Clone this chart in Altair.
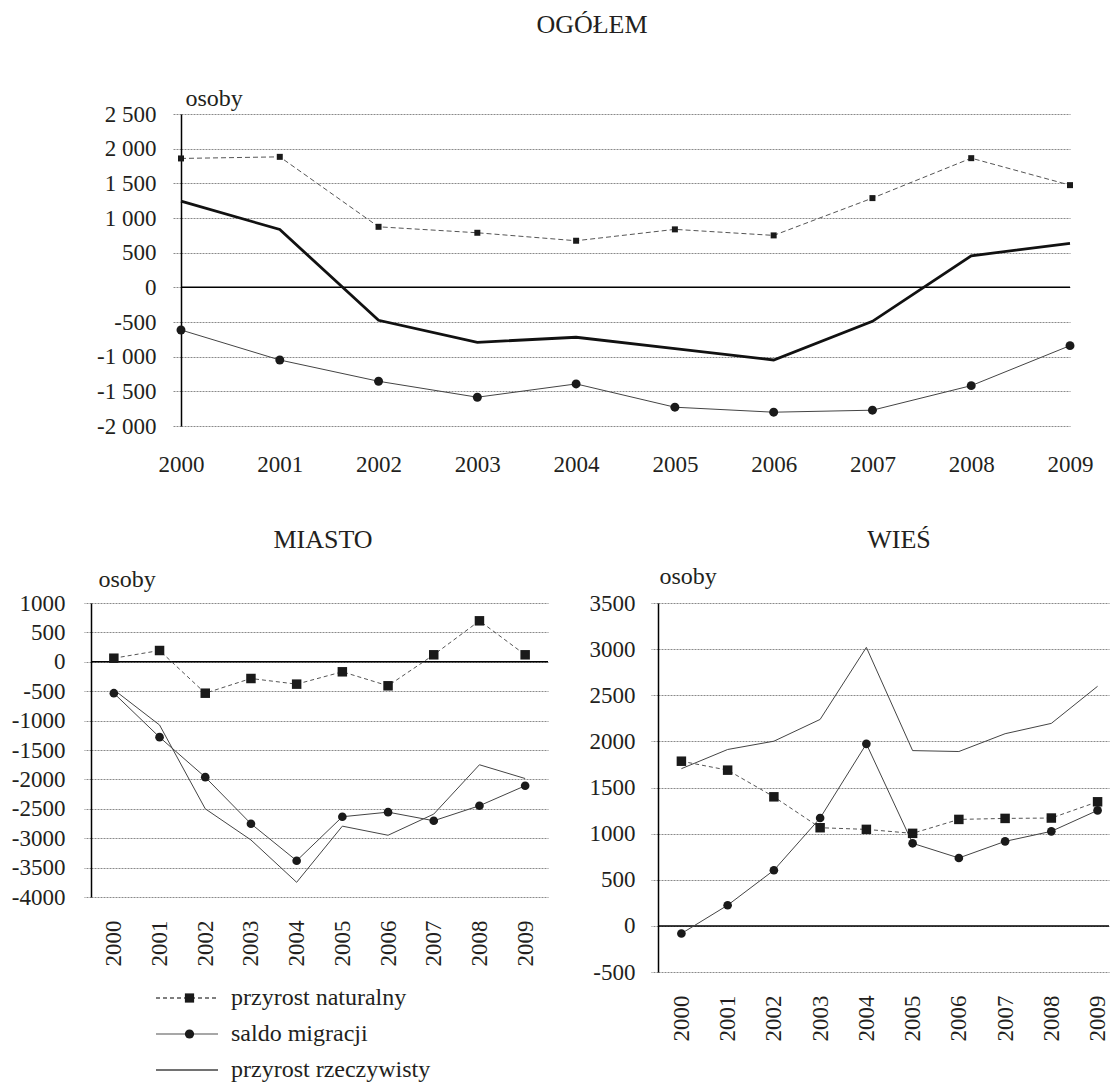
import altair as alt
import pandas as pd

# ---------------- data ----------------
years = [2000, 2001, 2002, 2003, 2004, 2005, 2006, 2007, 2008, 2009]
series = ["przyrost naturalny", "saldo migracji", "przyrost rzeczywisty"]

ogolem_naturalny = [1859, 1882, 873, 787, 672, 836, 749, 1287, 1863, 1474]
ogolem_migracje = [-615, -1048, -1355, -1585, -1393, -1729, -1801, -1772, -1418, -841]
ogolem_rzeczywisty = [1244, 834, -476, -793, -720, -885, -1048, -490, 455, 634]

miasto_naturalny = [61, 192, -534, -284, -380, -170, -408, 119, 697, 119]
miasto_migracje = [-534, -1282, -1962, -2754, -3383, -2635, -2557, -2703, -2448, -2108]
miasto_rzeczywisty = [-475, -1075, -2500, -3030, -3750, -2795, -2950, -2590, -1751, -1985]

wies_naturalny = [1785, 1688, 1399, 1064, 1046, 1003, 1154, 1165, 1169, 1345]
wies_migracje = [-83, 224, 603, 1169, 1973, 895, 736, 916, 1025, 1252]
wies_rzeczywisty = [1704, 1912, 2002, 2238, 3019, 1900, 1890, 2083, 2195, 2597]

ogolem_ticks = [-2000, -1500, -1000, -500, 0, 500, 1000, 1500, 2000, 2500]
miasto_ticks = [-4000, -3500, -3000, -2500, -2000, -1500, -1000, -500, 0, 500, 1000]
wies_ticks = [-500, 0, 500, 1000, 1500, 2000, 2500, 3000, 3500]

# ---------------- style ----------------
FONT = "Liberation Serif"
INK = "#231f20"
GRID = "#8a8a8a"
TICK_FS = 23


def long_frame(nat, mig, rz):
    return pd.DataFrame({
        "rok": years * 3,
        "seria": [s for s in series for _ in years],
        "wartosc": nat + mig + rz,
    })


def panel(title, df, ticks, width, height, xdom, label_expr, x_angle, x_pad,
          tick_size, y_pad, osoby_x, osoby_y, sq_size, circ_size, rz_width,
          rz_color, dash, title_cx, title_y):
    x = alt.X(
        "rok:Q",
        scale=alt.Scale(domain=xdom, nice=False, zero=False),
        axis=alt.Axis(values=years, format="d", grid=False, domain=False,
                      ticks=False, labelAngle=x_angle, labelPadding=x_pad,
                      labelFont=FONT, labelFontSize=TICK_FS, labelColor=INK,
                      labelFlush=False, labelOverlap=False, title=None),
    )
    y = alt.Y(
        "wartosc:Q",
        scale=alt.Scale(domain=[ticks[0], ticks[-1]], nice=False, zero=False),
        axis=alt.Axis(values=ticks, labelExpr=label_expr, grid=True,
                      gridColor=GRID, gridDash=[2, 1], gridWidth=1,
                      tickSize=tick_size, tickColor=GRID, tickDash=[2, 1],
                      tickWidth=1, domainColor="black", domainWidth=1.5,
                      labelPadding=y_pad, labelFont=FONT,
                      labelFontSize=TICK_FS, labelColor=INK,
                      labelOverlap=False, labelFlush=False,
                      title="osoby", titleAngle=0, titleAlign="left",
                      titleBaseline="alphabetic", titleX=osoby_x,
                      titleY=osoby_y, titleFont=FONT, titleFontSize=24,
                      titleFontWeight="normal", titleColor=INK),
    )
    base = alt.Chart(df)

    def sel(i):
        return base.transform_filter(alt.datum.seria == series[i])

    zero = alt.Chart(pd.DataFrame({"wartosc": [0]})).mark_rule(
        color="black", strokeWidth=1.5).encode(y=y)
    nat_line = sel(0).mark_line(color="#555555", strokeWidth=1,
                                strokeDash=dash).encode(x=x, y=y)
    mig_line = sel(1).mark_line(color="#444444", strokeWidth=1).encode(x=x, y=y)
    rz_line = sel(2).mark_line(color=rz_color, strokeWidth=rz_width).encode(x=x, y=y)
    nat_pts = sel(0).mark_point(shape="square", filled=True, opacity=1,
                                size=sq_size, color="#1a1a1a").encode(x=x, y=y)
    mig_pts = sel(1).mark_point(shape="circle", filled=True, opacity=1,
                                size=circ_size, color="#1a1a1a").encode(x=x, y=y)
    head = alt.Chart(pd.DataFrame({"t": [title]})).mark_text(
        align="center", baseline="alphabetic", font=FONT, fontSize=26,
        color=INK).encode(x=alt.value(title_cx), y=alt.value(title_y), text="t:N")
    return alt.layer(zero, nat_line, mig_line, rz_line, nat_pts, mig_pts, head).properties(
        width=width, height=height)


top_expr = ("datum.value < 0 ? '-' + replace(format(-datum.value, ','), ',', ' ')"
            " : replace(format(datum.value, ','), ',', ' ')")
plain_expr = "datum.value < 0 ? '-' + format(-datum.value, 'd') : format(datum.value, 'd')"

ogolem = panel("OGÓŁEM", long_frame(ogolem_naturalny, ogolem_migracje, ogolem_rzeczywisty),
               ogolem_ticks, 889, 312, [2000, 2009], top_expr, 0, 27.5,
               8, 17, 4, -9, 36, 80, 2.8, "#111111", [5, 3], 411, -81)

miasto = panel("MIASTO", long_frame(miasto_naturalny, miasto_migracje, miasto_rzeczywisty),
               miasto_ticks, 457, 294, [1999.5, 2009.5], plain_expr, -90, 23,
               7, 19, 7, -17, 90, 75, 1, "#444444", [4, 3], 232, -55)

wies = panel("WIEŚ", long_frame(wies_naturalny, wies_migracje, wies_rzeczywisty),
             wies_ticks, 451, 369, [1999.494, 2009.247], plain_expr, -90, 23,
             7, 16, 1, -20, 90, 75, 1, "#444444", [4, 3], 241, -55)

# ---------------- legend (own small chart) ----------------
leg_df = pd.DataFrame({"seria": series})
yl = alt.Y("seria:N", scale=alt.Scale(type="point", domain=series, padding=0.5), axis=None)
leg_lines = alt.Chart(leg_df).mark_rule(strokeWidth=1.3).encode(
    x=alt.value(65), x2=alt.value(127), y=yl,
    color=alt.Color("seria:N", scale=alt.Scale(domain=series, range=["#555555", "#8a8a8a", "#444444"]), legend=None),
    strokeDash=alt.StrokeDash("seria:N", scale=alt.Scale(domain=series, range=[[4, 3], [1, 0], [1, 0]]), legend=None),
)
leg_pts = alt.Chart(leg_df).transform_filter(alt.datum.seria != series[2]).mark_point(
    filled=True, opacity=1, size=85, color="#1a1a1a").encode(
    x=alt.value(98.5), y=yl,
    shape=alt.Shape("seria:N", scale=alt.Scale(domain=series[:2], range=["square", "circle"]), legend=None),
)
leg_txt = alt.Chart(leg_df).mark_text(align="left", baseline="alphabetic", dy=7,
                                      font=FONT, fontSize=24, color=INK).encode(
    x=alt.value(140), y=yl, text="seria:N")
legend = alt.layer(leg_lines, leg_pts, leg_txt).properties(width=457, height=108)


def spacer(w, h):
    return alt.Chart(pd.DataFrame({"v": [0]})).mark_rect(opacity=0).encode(
        x=alt.value(0), x2=alt.value(w), y=alt.value(0), y2=alt.value(h)
    ).properties(width=w, height=h)


row1 = alt.hconcat(spacer(90, 403), ogolem, spacing=0, bounds="flush")
left_col = alt.vconcat(spacer(457, 1), miasto, legend, spacing=83, bounds="flush")
right_col = alt.vconcat(spacer(451, 1), wies, spacing=83, bounds="flush")
row2 = alt.hconcat(left_col, right_col, spacing=38)

chart = alt.vconcat(row1, row2, spacing=0).properties(
    padding={"left": 2, "top": 3, "right": 0, "bottom": 0},
    background="white",
).configure_view(stroke="transparent")

chart.save("out.html", embed_options={"renderer": "svg", "actions": False})
